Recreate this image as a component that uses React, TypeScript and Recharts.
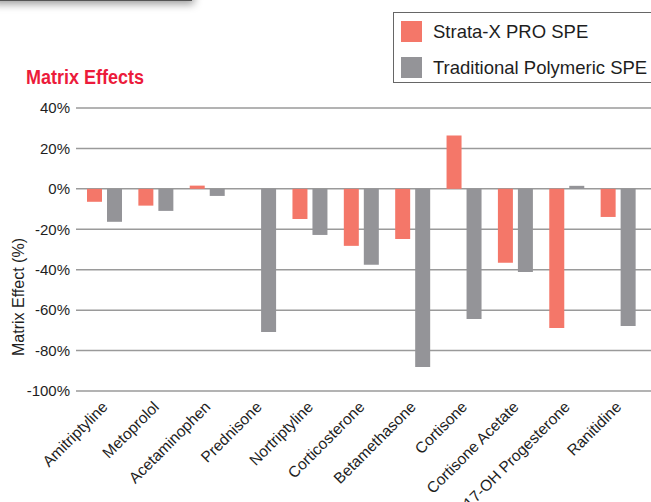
import {
  BarChart,
  Bar,
  XAxis,
  YAxis,
  CartesianGrid,
  Legend,
} from "recharts";

const compounds = [
  "Amitriptyline",
  "Metoprolol",
  "Acetaminophen",
  "Prednisone",
  "Nortriptyline",
  "Corticosterone",
  "Betamethasone",
  "Cortisone",
  "Cortisone Acetate",
  "17-OH Progesterone",
  "Ranitidine",
];

// matrix effect in %
const strataX = [-6.4, -8.3, 1.6, 0, -14.9, -28.2, -24.8, 26.4, -36.6, -68.8, -13.9];
const traditional = [-16.3, -10.9, -3.5, -70.8, -22.8, -37.6, -88.1, -64.4, -41.1, 1.5, -67.8];

const yTicks = [40, 20, 0, -20, -40, -60, -80, -100];

const RED = "#F47769";
const GRAY = "#949498";
const FONT = '"Liberation Sans", Arial, Helvetica, sans-serif';

const data = compounds.map((name, i) => ({
  name,
  "Strata-X PRO SPE": strataX[i],
  "Traditional Polymeric SPE": traditional[i],
}));

function AngledTick({ x, y, payload }: any) {
  const tx = x + 4;
  const ty = y + 9;
  return (
    <text
      x={tx}
      y={ty}
      transform={`rotate(-45 ${tx} ${ty})`}
      textAnchor="end"
      fontSize={15.5}
      fontFamily={FONT}
      fill="#1e1e1e"
    >
      {payload.value}
    </text>
  );
}

function LegendBox({ payload }: any) {
  return (
    <div
      style={{
        width: 270,
        height: 71,
        boxSizing: "border-box",
        border: "1px solid #666",
        background: "#fff",
        paddingTop: 7,
        paddingLeft: 7,
      }}
    >
      {(payload || []).map((p: any) => (
        <div
          key={p.value}
          style={{ display: "flex", alignItems: "center", height: 36 }}
        >
          <span
            style={{
              display: "inline-block",
              width: 21,
              height: 21,
              background: p.color,
              marginRight: 11,
              marginTop: -13,
            }}
          />
          <span
            style={{
              fontFamily: FONT,
              fontSize: 18.5,
              color: "#1e1e1e",
              marginTop: -13,
              whiteSpace: "nowrap",
            }}
          >
            {p.value}
          </span>
        </div>
      ))}
    </div>
  );
}

export default function App() {
  return (
    <div
      style={{
        position: "fixed",
        left: 0,
        top: 0,
        width: 651,
        height: 502,
        overflow: "hidden",
        background: "#fff",
      }}
    >
      {/* tab from the page above */}
      <div
        style={{
          position: "absolute",
          left: -10,
          top: -20,
          width: 202,
          height: 19,
          background: "#eeeeee",
          borderBottom: "2px solid #555",
          boxShadow: "2px 3px 8px rgba(0,0,0,0.4)",
        }}
      />

      <div
        style={{
          position: "absolute",
          left: 26,
          top: 66,
          fontFamily: FONT,
          fontWeight: "bold",
          fontSize: 20,
          lineHeight: "23px",
          color: "#EC1B3B",
          whiteSpace: "nowrap",
          transform: "scaleX(0.9)",
          transformOrigin: "left top",
        }}
      >
        Matrix Effects
      </div>

      <BarChart
        width={651}
        height={502}
        data={data}
        margin={{ top: 108, right: 0, bottom: 11, left: 0 }}
        barSize={15}
        barGap={5}
        style={{ position: "absolute", left: 0, top: 0 }}
      >
        <CartesianGrid vertical={false} stroke="#9a9a9a" strokeWidth={1.5} />
        <XAxis
          dataKey="name"
          height={100}
          interval={0}
          axisLine={false}
          tickLine={false}
          padding={{ left: 3, right: 7 }}
          tick={<AngledTick />}
        />
        <YAxis
          width={76}
          domain={[-100, 40]}
          ticks={yTicks}
          interval={0}
          axisLine={false}
          tickLine={false}
          tickSize={4}
          tickMargin={2}
          tickFormatter={(v: number) => `${v}%`}
          tick={{ fontSize: 15, fontFamily: FONT, fill: "#1e1e1e" }}
          label={{
            content: () => (
              <text
                x={24}
                y={297}
                transform="rotate(-90 24 297)"
                textAnchor="middle"
                fontSize={16}
                fontFamily={FONT}
                fill="#1e1e1e"
              >
                Matrix Effect (%)
              </text>
            ),
          }}
        />
        <Legend
          layout="vertical"
          align="center"
          verticalAlign="middle"
          content={<LegendBox />}
          wrapperStyle={{ position: "absolute", left: 393, top: 12, width: 270 }}
        />
        <Bar dataKey="Strata-X PRO SPE" fill={RED} isAnimationActive={false} />
        <Bar dataKey="Traditional Polymeric SPE" fill={GRAY} isAnimationActive={false} />
      </BarChart>
    </div>
  );
}
